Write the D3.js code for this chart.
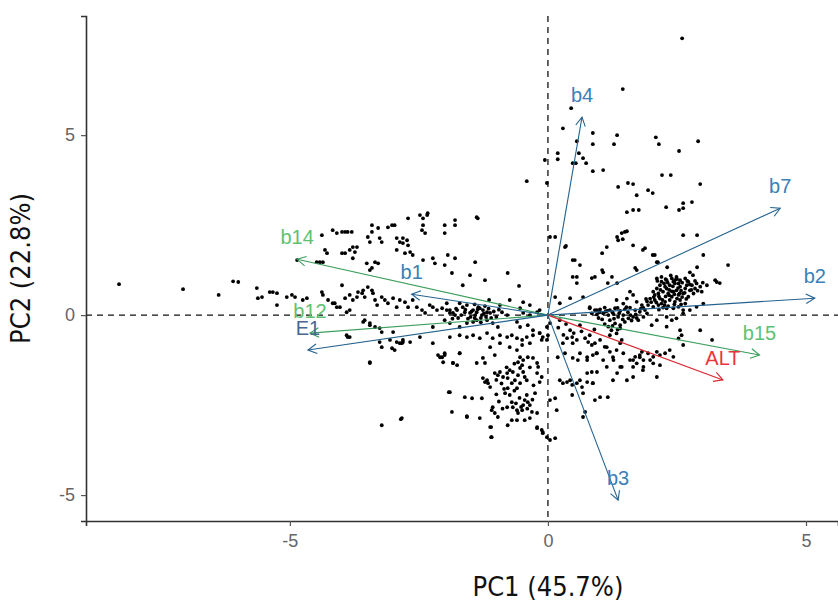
<!DOCTYPE html>
<html><head><meta charset="utf-8">
<script src="https://cdn.jsdelivr.net/npm/d3@7/dist/d3.min.js"></script>
<style>body{margin:0;background:#fff}svg{display:block;background:#fff}</style>
</head><body>
<svg id="chart" width="838" height="601"></svg>
<script>
// ---- data ----
const xTicks = [-5, 0, 5];
const yTicks = [-5, 0, 5];
const xTitle = "PC1 (45.7%)";
const yTitle = "PC2 (22.8%)";

const varNames = ["b4", "b7", "b2", "b15", "ALT", "b3", "b14", "b1", "b12", "E1"];
const varPC1   = [0.66, 4.50, 5.17, 4.10, 3.39, 1.36, -4.86, -2.64, -4.61, -4.65];
const varPC2   = [5.50, 2.97, 0.47, -1.11, -1.80, -5.14, 1.55, 0.58, -0.50, -0.97];
const varGroup = ["blue", "blue", "blue", "green", "red", "blue", "green", "blue", "green", "blue"];

const obs = [
// left outliers
[-8.31,0.86],[-7.07,0.72],[-6.38,0.56],[-6.10,0.94],[-6.0,0.92],[-5.64,0.75],[-5.62,0.47],[-5.54,0.5],[-5.39,0.64],[-5.33,0.64],[-5.25,0.61],[-5.06,0.5],[-4.96,0.56],[-5.25,0.28],[-4.86,1.53],
// upper-left cluster
[-4.38,2.22],[-4.17,2.36],[-4.09,2.28],[-3.99,2.31],[-3.93,2.31],[-3.88,2.31],[-3.80,2.31],[-3.41,2.5],[-3.41,2.31],[-3.29,2.42],[-3.10,2.44],[-3.02,2.5],[-2.97,2.5],[-2.71,2.69],[-2.48,2.78],[-2.42,2.69],[-2.34,2.78],[-2.42,2.5],[-2.38,2.28],[-2.0,2.5],[-2.0,2.28],[-1.80,2.64],[-1.80,2.5],[-3.49,2.17],[-3.45,2.03],[-3.26,2.14],[-3.22,2.03],[-2.93,2.14],[-2.87,2.03],[-2.81,2.0],[-2.73,2.08],[-2.71,1.94],[-4.32,1.81],[-4.28,1.72],[-3.99,1.72],[-3.93,1.72],[-3.84,1.81],[-3.78,1.89],[-3.74,1.75],[-3.70,1.89],[-3.78,1.58],[-3.51,1.44],[-3.45,1.25],[-3.41,1.31],[-3.35,1.47],[-3.29,1.44],[-2.93,1.81],[-2.77,1.72],[-2.67,1.75],[-2.62,1.67],[-2.42,1.53],[-2.23,1.58],[-2.19,1.44],[-1.94,1.67],[-1.86,1.17],[-4.48,1.47],[-4.42,1.47],[-4.36,1.47],[-2.33,2.83],[-2.44,2.36],[-1.38,2.72],[-1.36,2.69],[-2.81,2.14],
// left band
[-4.90,0.50],[-4.75,0.42],[-4.67,0.47],[-4.38,0.64],[-4.36,0.56],[-4.26,0.42],[-4.17,0.33],[-4.09,0.22],[-3.99,0.83],[-3.93,0.47],[-3.84,0.56],[-3.78,0.42],[-3.70,0.50],[-3.68,0.64],[-3.60,0.61],[-3.58,0.69],[-3.55,0.50],[-3.49,0.78],[-3.41,0.69],[-3.39,0.61],[-3.35,0.42],[-3.31,0.28],[-3.22,0.50],[-3.16,0.42],[-3.10,0.33],[-3.00,0.47],[-2.93,0.22],[-2.87,0.42],[-2.77,0.36],[-2.71,0.22],[-2.62,0.42],[-2.54,0.22],[-2.44,0.14],[-2.38,0.06],[-2.29,0.28],[-2.23,0.22],[-2.15,0.14],[-2.05,0.19],[-1.96,0.33],[-1.90,0.14],[-1.84,0.06],[-1.76,0.14],
[-4.13,0.33],[-4.03,0.22],[-3.9,0.08],[-3.84,0.14],[-3.55,-0.14],[-3.45,-0.22],[-3.22,-0.47],[-3.0,-0.47],[-2.93,-0.75],[-2.81,-0.69],[-3.88,-0.61],[-3.45,-1.33],
[-2.0,1.39],[-1.80,1.58],[-1.51,1.11],[-1.65,0.83],[-1.22,0.97],[-1.41,1.47],
[-0.78,1.17],[-0.56,0.81],[-0.48,0.36],[0.35,1.92],[0.48,1.53],[0.56,1.06],[-1.14,0.42],
// blob left of origin
[-1.71,0.33],[-1.65,0.22],[-1.57,0.28],[-1.45,0.14],[-1.38,0.08],[-1.32,0.19],[-1.26,0.14],[-1.18,0.08],[-1.12,0.06],[-1.28,0.0],[-1.41,0.0],[-1.51,0.06],[-1.61,0.08],[-1.96,0.14],[-1.90,0.06],[-1.80,0.0],[-1.74,-0.08],[-2.0,-0.14],[-1.90,-0.22],[-1.71,-0.33],[-1.57,-0.22],[-1.45,-0.19],[-1.38,-0.14],[-1.18,-0.14],[-1.07,-0.22],[-0.97,-0.33],[-0.89,0.08],[-0.79,0.0],[-0.60,-0.19],[-0.54,-0.33],[-0.39,-0.28],[-0.29,-0.42],[-0.16,-0.5],[-0.02,-0.33],[0.04,-0.22],[-0.48,0.06],[-0.35,0.0],[-0.21,0.08],
[-0.93,0.28],[-0.74,0.42],[-0.54,0.19],[-0.35,0.28],[-0.16,0.14],
[-1.35,0.22],[-1.22,0.25],[-1.5,-0.05],[-1.3,-0.08],[-1.6,0.15],[-1.42,0.3],
[-1.48,0.1],[-1.36,0.16],[-1.24,0.05],[-1.15,0.18],[-1.05,0.1],[-1.55,-0.1],[-1.42,-0.08],[-1.3,-0.2],[-1.2,-0.05],[-1.1,-0.08],[-1.68,0.0],[-1.78,0.18],[-1.85,-0.1],[-1.0,-0.05],[-0.95,0.15],
// bottom-centre cloud
[-2.0,-1.11],[-1.90,-2.14],[-1.86,-2.69],[-1.84,-1.33],[-1.76,-1.39],[-1.71,-1.06],[-1.61,-2.28],[-1.57,-2.83],[-1.47,-2.31],[-1.38,-1.33],[-1.32,-2.86],[-1.28,-2.31],[-1.26,-1.19],[-1.22,-1.33],[-1.26,-1.75],[-1.22,-1.86],[-1.18,-1.81],[-1.16,-1.89],[-1.12,-2.0],[-1.12,-0.89],[-1.09,-2.64],[-1.07,-2.56],[-1.03,-2.72],[-0.97,-2.83],[-1.12,-3.11],[-1.09,-3.39],
[-1.03,-1.61],[-0.97,-1.67],[-0.93,-1.58],[-0.87,-1.72],[-0.79,-1.61],[-0.78,-1.75],[-0.74,-1.53],[-0.68,-1.58],[-0.70,-1.89],[-0.64,-1.81],[-0.58,-1.67],[-0.54,-1.47],[-0.50,-1.39],[-0.48,-1.58],[-0.45,-1.72],[-0.41,-1.81],[-0.54,-1.89],[-0.60,-2.03],[-0.78,-2.03],[-0.83,-2.17],[-0.74,-2.22],[-0.70,-2.42],[-0.68,-2.56],[-0.60,-2.64],[-0.58,-2.72],[-0.50,-2.64],[-0.48,-2.50],[-0.45,-2.36],[-0.41,-2.22],[-0.39,-2.42],[-0.35,-2.5],[-0.31,-2.69],[-0.25,-2.17],[-0.21,-1.61],[-0.19,-1.44],[-0.16,-1.86],[-0.12,-1.72],[-0.21,-2.72],[-0.35,-2.86],[-0.45,-2.92],[-0.60,-2.92],[-0.70,-2.92],[-0.78,-3.06],[-0.79,-2.56],
[-1.0,-1.8],[-0.9,-1.9],[-0.85,-2.05],[-0.65,-2.1],[-0.55,-2.3],[-0.62,-2.45],[-0.52,-2.55],[-0.4,-2.6],[-0.3,-2.35],[-0.28,-1.95],[-0.35,-1.45],[-0.65,-1.35],[-0.8,-1.45],[-0.95,-2.4],[-0.88,-2.6],[-1.0,-2.2],
[-0.21,-3.14],[-0.12,-3.19],[-0.10,-3.28],[-0.02,-3.39],[0.04,-3.47],[0.14,-3.42],[0.17,-2.64],[0.14,-2.31],[0.04,-2.36],
[0.29,-0.78],[0.37,-0.64],[0.47,-0.61],[0.56,-0.69],[0.72,-0.64],[0.78,-0.75],[0.85,-0.83],[0.91,-0.78],
[0.19,-1.17],[0.33,-1.06],[0.48,-1.19],[0.58,-1.25],[0.76,-1.17],[0.87,-1.11],
[0.23,-1.81],[0.29,-1.89],[0.37,-1.86],[0.47,-1.94],[0.56,-1.89],[0.66,-2.0],[0.76,-1.86],[0.87,-1.89],[0.47,-2.22],[0.68,-2.17],[0.91,-2.36],[0.72,-2.69],[0.76,-1.61],[0.85,-1.58],
[-1.71,-0.56],[-1.57,-0.61],[-1.45,-0.56],[-1.32,-0.64],[-1.18,-0.5],[-1.07,-0.64],[-0.93,-0.56],[-0.79,-0.61],[-0.70,-0.56],[-0.60,-0.64],[-0.50,-0.69],[-0.41,-0.61],[-0.29,-0.56],[-0.16,-0.5],[-0.12,-0.69],[-0.10,-0.61],[0.0,-0.56],[-0.02,-0.69],
[-0.60,-0.97],[-0.54,-1.17],[-0.58,-1.31],[-0.48,-1.25],[-0.39,-1.17],[-0.29,-1.19],[-0.21,-1.33],[-0.50,-0.83],[-0.35,-0.78],[-0.74,-0.89],[-0.93,-0.78],[-1.03,-1.11],
// right of b3
[0.48,-0.78],[0.62,-1.06],[0.76,-1.25],[0.95,-1.06],[1.07,-1.25],[1.14,-1.44],[1.26,-1.17],[1.40,-1.44],[1.53,-1.81],[1.65,-1.72],[1.26,-1.81],[0.87,-1.89],[1.01,-2.28],[1.16,-2.28],[0.68,-2.83],[0.62,-1.81],[0.43,-1.81],[0.95,-1.58],[1.34,-1.61],[1.65,-1.25],[1.78,-1.17],[2.11,-1.72],[1.98,-1.25],[1.84,-1.53],[1.40,-0.78],[1.14,-0.89],
[0.2,-0.35],[0.35,-0.25],[0.5,-0.5],[0.65,-0.45],[0.9,-0.4],[0.3,-0.55],
// lower-left of cloud
[-2.83,-2.86],[-1.57,-2.81],[-1.10,-3.11],[-1.10,-3.39],[-0.21,-3.11],[-0.10,-3.25],
[-2.23,-0.78],[-2.09,-1.17],[-2.03,-1.31],[-1.84,-1.33],[-1.71,-1.06],[-1.9,-0.61],[-2.67,-0.75],[-2.83,-0.78],[-2.48,-0.61],[-2.23,-0.33],
[-3.22,-3.06],[-2.85,-2.89],[-3.45,-1.31],[-3.26,-0.75],[-3.22,-0.89],[-3.06,-0.69],[-3.02,-0.92],[-2.97,-0.97],[-2.87,-0.78],[-2.81,-0.75],[-2.13,-1.11],[-2.05,-1.17],[-2.0,-1.06],[-3.84,-0.61],[-3.90,-0.56],[-3.58,-0.19],[-3.45,-0.28],[-3.35,-0.33],[-3.26,-0.36],[-1.92,-2.14],
// top region
[2.60,7.69],[1.45,6.28],[0.45,5.75],[0.29,5.19],[0.19,4.5],[0.19,4.33],[-0.06,4.31],[0.56,4.83],[0.60,4.5],[0.68,4.36],[0.74,4.22],[0.48,4.22],[0.54,4.22],[0.87,5.06],[0.87,4.75],[1.34,5.0],[1.28,4.75],[0.87,4.0],[1.07,4.03],[2.09,4.94],[2.15,4.75],[2.54,4.56],[2.91,4.83],[-0.41,3.72],[-0.02,3.67],
[1.36,3.56],[1.55,3.67],[1.65,3.64],[1.72,3.33],[1.94,3.47],[2.03,3.39],[2.21,3.89],[2.38,3.89],[2.29,3.0],[2.54,2.92],[2.62,3.11],[2.79,3.14],[2.95,3.64],[1.53,2.86],[1.65,2.92],[1.76,2.92],[1.45,2.11],[1.53,2.33],[0.14,2.17],[0.33,1.89],
// upper right scatter
[1.34,2.17],[1.43,2.28],[1.49,2.31],[1.36,2.08],[1.65,1.94],[1.84,1.81],[2.03,1.67],[2.11,1.47],[2.31,1.33],[1.14,1.89],[1.05,1.72],[0.91,1.06],[1.07,1.19],[1.16,0.89],[2.62,2.22],[2.89,2.22],[2.75,1.19],[2.81,1.11],[2.46,0.97],[3.24,0.97],[3.27,0.92],[3.33,0.89],[3.49,1.39],[1.72,1.25],
[0.04,2.17],[0.52,1.53],[0.62,1.39],[0.48,1.06],[0.56,0.89],[0.85,1.03],[1.05,1.25],[1.24,1.06],[1.34,0.89],[1.69,1.31],[1.88,1.86],[2.07,1.67],[2.13,1.47],[2.62,2.97],[2.89,1.33],[3.01,1.67],
[0.14,0.5],[0.23,0.33],[0.43,0.47],[0.68,0.5],[0.81,0.22],[0.95,0.14],
[0.23,-0.14],[0.43,-0.42],[0.62,-0.28],[0.81,-0.56],[1.01,-0.69],[1.20,-0.56],
// right dense blob
[2.11,1.02],[2.20,1.06],[2.30,0.97],[2.40,1.02],[2.49,1.06],[2.56,0.97],[2.66,1.02],[2.72,0.93],[2.79,0.83],[2.88,0.88],[2.95,0.79],[3.08,0.83],[2.17,0.83],[2.27,0.79],[2.36,0.83],[2.46,0.88],[2.56,0.79],[2.66,0.74],[2.75,0.69],[2.85,0.74],[2.04,0.65],[2.14,0.60],[2.23,0.65],[2.33,0.60],[2.43,0.65],[2.53,0.56],[2.62,0.60],[2.72,0.51],[1.98,0.46],[2.07,0.42],[2.17,0.46],[2.27,0.37],[2.36,0.42],[2.46,0.37],[2.56,0.42],[2.66,0.32],[1.94,0.28],[2.04,0.23],[2.14,0.28],[2.23,0.21],[2.33,0.25],[2.43,0.19],[2.53,0.23],[2.62,0.14],
[2.20,0.93],[2.43,0.93],[2.30,0.74],[2.49,0.69],[2.11,0.74],[2.40,0.51],[2.20,0.32],[2.53,0.88],[2.69,0.83],[2.82,0.60],[2.07,0.56],[2.30,0.19],
[2.25,0.88],[2.35,0.70],[2.58,0.68],[2.15,0.52],[2.45,0.58],[2.60,0.90],[2.38,1.10],[2.00,0.36],[2.28,0.52],[2.50,0.46],
[2.12,0.95],[2.28,1.0],[2.42,0.8],[2.52,0.75],[2.65,0.62],[2.7,0.95],[2.78,0.7],[2.9,0.68],[2.35,0.55],[2.22,0.42],[2.1,0.35],[1.92,0.38],[2.45,0.3],[2.6,0.5],[2.68,0.45],[2.5,1.0],[2.32,0.9],[2.18,0.7],[2.05,0.5],[2.4,0.66],[2.55,0.6],[2.75,0.85],[2.85,0.95],[3.0,0.9],[2.98,0.65],[1.85,0.2],[1.9,0.45],[2.26,0.28],[2.58,0.3],[2.15,0.15],
// band along the axis
[0.81,0.19],[0.91,0.14],[1.01,0.16],[1.10,0.21],[1.20,0.14],[1.30,0.19],[1.40,0.12],[1.49,0.16],[1.59,0.21],[1.69,0.14],[1.78,0.09],[1.88,0.14],[1.07,0.05],[1.17,0.0],[1.27,0.03],[1.36,-0.05],[1.46,0.0],[1.56,-0.09],[1.65,-0.05],[1.75,-0.14],[1.85,-0.05],[1.20,-0.14],[1.30,-0.23],[1.40,-0.28],[1.49,-0.19],[1.17,-0.32],[1.23,-0.42],[1.33,-0.51],[1.40,-0.37],[1.53,0.46],[1.59,0.65],[1.65,0.56],[1.46,0.32],[1.33,0.42],[1.72,0.37],[1.82,0.28],[2.30,-0.05],[2.40,-0.14],[2.49,-0.09],[2.11,-0.14],[2.01,-0.28],[2.30,-0.32],[2.56,-0.42],[2.62,0.05],[2.75,0.14],[2.88,0.23],[3.01,0.32],[2.53,-0.65],[2.62,-0.83],[2.59,-0.56],
[1.0,0.08],[1.12,0.1],[1.25,0.08],[1.35,0.2],[1.55,0.08],[1.62,-0.15],[1.7,0.02],[0.95,0.02],
[0.85,0.05],[0.98,-0.08],[1.05,-0.12],[1.15,0.12],[1.28,-0.1],[1.38,0.05],[1.45,-0.12],[1.52,0.22],[1.6,0.0],[1.72,-0.08],[1.8,0.18],[1.92,0.05],[1.25,-0.3],[1.35,-0.4],[1.1,-0.25],
// lower band near ALT
[1.59,-1.25],[1.69,-1.16],[1.78,-1.11],[1.85,-1.25],[1.94,-1.06],[2.04,-1.16],[2.11,-1.02],[2.17,-1.11],[2.27,-1.06],[2.36,-0.97],[2.43,-1.16],[1.72,-1.34],[1.85,-1.44],[2.04,-1.34],[2.17,-1.39],[1.65,-1.44],[1.82,-1.02],[1.46,-1.06],[1.33,-0.97],[1.43,-0.69],[1.10,-0.88],[1.20,-1.02],[0.94,-1.06],[1.27,-1.25],[1.43,-1.44],
[2.95,-0.42],[3.18,-0.69]
];

// ---- chart ----
const svg = d3.select("#chart");
const x = d3.scaleLinear().domain([-8.95, 5.62]).range([86, 838]);
const y = d3.scaleLinear().domain([-5.72, 8.31]).range([521, 16]);

const colors = {
  blue:  {line: "#24628f", text: "#3a80b8"},
  green: {line: "#3a9e5c", text: "#5fc072"},
  red:   {line: "#d7262f", text: "#e8343c"}
};
const labelColors = {E1: "#44688f"};

// reference dashed lines
svg.append("line").attr("x1", x(0)).attr("x2", x(0)).attr("y1", y.range()[1]).attr("y2", y.range()[0])
  .attr("stroke", "#111").attr("stroke-width", 1.3).attr("stroke-dasharray", "6,5");
svg.append("line").attr("x1", x.range()[0]).attr("x2", x.range()[1]).attr("y1", y(0)).attr("y2", y(0))
  .attr("stroke", "#111").attr("stroke-width", 1.3).attr("stroke-dasharray", "6,5");

// points
svg.append("g").selectAll("circle").data(obs).join("circle")
  .attr("cx", d => x(d[0])).attr("cy", d => y(d[1])).attr("r", 1.9).attr("fill", "#000");

// variable arrows
const vars = varNames.map((n, i) => ({name: n, pc1: varPC1[i], pc2: varPC2[i], group: varGroup[i]}));
const ag = svg.append("g");
vars.forEach(v => {
  const ox = x(0), oy = y(0), tx = x(v.pc1), ty = y(v.pc2);
  const c = colors[v.group];
  ag.append("line").attr("x1", ox).attr("y1", oy).attr("x2", tx).attr("y2", ty)
    .attr("stroke", c.line).attr("stroke-width", 1.1);
  const a = Math.atan2(ty - oy, tx - ox), len = 10, h = 0.5;
  const p1 = [tx - len * Math.cos(a - h), ty - len * Math.sin(a - h)];
  const p2 = [tx - len * Math.cos(a + h), ty - len * Math.sin(a + h)];
  ag.append("path").attr("d", `M${p1[0]},${p1[1]}L${tx},${ty}L${p2[0]},${p2[1]}`)
    .attr("fill", "none").attr("stroke", c.line).attr("stroke-width", 1.1);
});
svg.append("g").selectAll("text").data(vars).join("text")
  .attr("x", d => x(d.pc1)).attr("y", d => y(d.pc2) - 15)
  .attr("text-anchor", "middle")
  .attr("font-family", "'Liberation Sans', Arial, sans-serif").attr("font-size", 20)
  .attr("fill", d => labelColors[d.name] || colors[d.group].text)
  .text(d => d.name);

// axes
const xAxis = svg.append("g").attr("transform", `translate(0,${y.range()[0]})`)
  .call(d3.axisBottom(x).tickValues(xTicks).tickSizeOuter(0).tickSize(5).tickPadding(8).tickFormat(d3.format("d")));
const yAxis = svg.append("g").attr("transform", `translate(${x.range()[0]},0)`)
  .call(d3.axisLeft(y).tickValues(yTicks).tickSizeOuter(0).tickSize(5).tickPadding(6).tickFormat(d3.format("d")));
[xAxis, yAxis].forEach(g => {
  g.select(".domain").attr("stroke", "#333").attr("stroke-width", 1.6);
  g.selectAll(".tick line").attr("stroke", "#555").attr("stroke-width", 1.2);
  g.selectAll(".tick text").attr("fill", "#666").attr("font-size", 18)
    .attr("font-family", "'Liberation Sans', Arial, sans-serif");
});
svg.selectAll(".tick text").text(d => String(d));

// titles
const titleFont = "'Liberation Sans Narrow', 'DejaVu Sans Condensed', sans-serif";
svg.append("text").attr("x", x(0)).attr("y", 596).attr("text-anchor", "middle")
  .attr("font-family", titleFont).attr("font-size", 27).attr("fill", "#111").text(xTitle);
svg.append("text").attr("transform", `translate(30,${(y.range()[0] + y.range()[1]) / 2}) rotate(-90)`)
  .attr("text-anchor", "middle")
  .attr("font-family", titleFont).attr("font-size", 27).attr("fill", "#111").text(yTitle);
</script>
</body></html>
